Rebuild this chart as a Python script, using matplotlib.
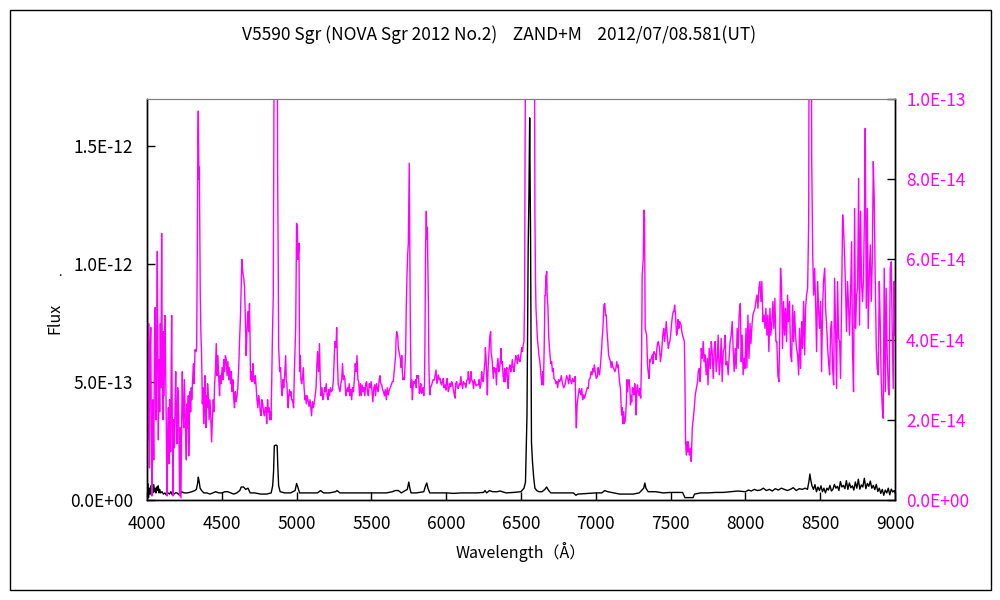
import matplotlib
matplotlib.use("Agg")
import matplotlib.pyplot as plt
from matplotlib.patches import Rectangle

plt.rcParams['font.family'] = ['Noto Sans CJK JP', 'DejaVu Sans']

# ---------- magenta spectrum (right axis, units of 1E-14) ----------
mag_wl = [
    4000, 4003, 4007, 4011, 4016, 4020, 4025, 4030, 4034, 4040, 4045, 4050, 4055, 4060, 4065, 4069,
    4073, 4076, 4080, 4085, 4089, 4093, 4098, 4102, 4106, 4109, 4114, 4120, 4125, 4130, 4134, 4138,
    4143, 4147, 4151, 4154, 4158, 4162, 4165, 4169, 4174, 4178, 4183, 4188, 4192, 4196, 4201, 4205,
    4209, 4214, 4218, 4222, 4227, 4232, 4236, 4240, 4245, 4250, 4254, 4258, 4263, 4268, 4272, 4276,
    4279, 4283, 4287, 4292, 4296, 4299, 4304, 4310, 4315, 4321, 4327, 4332, 4336, 4340, 4343, 4347,
    4350, 4353, 4356, 4360, 4365, 4370, 4374, 4379, 4383, 4388, 4391, 4394, 4398, 4401, 4405, 4410,
    4415, 4421, 4426, 4432, 4437, 4443, 4447, 4452, 4457, 4463, 4468, 4474, 4480, 4485, 4490, 4496,
    4502, 4508, 4513, 4519, 4524, 4530, 4535, 4541, 4547, 4552, 4558, 4563, 4569, 4574, 4580, 4585,
    4590, 4596, 4602, 4607, 4613, 4619, 4625, 4630, 4634, 4638, 4643, 4648, 4652, 4657, 4663, 4668,
    4674, 4680, 4685, 4689, 4692, 4697, 4701, 4705, 4708, 4713, 4719, 4724, 4730, 4735, 4741, 4746,
    4752, 4757, 4763, 4768, 4774, 4779, 4785, 4790, 4796, 4800, 4806, 4811, 4815, 4820, 4825, 4829,
    4834, 4838, 4844, 4848, 4851, 4856, 4862, 4868, 4873, 4877, 4880, 4884, 4887, 4893, 4897, 4900,
    4904, 4909, 4914, 4920, 4927, 4931, 4935, 4940, 4944, 4948, 4953, 4958, 4962, 4967, 4971, 4976,
    4980, 4985, 4989, 4994, 4998, 5000, 5005, 5009, 5016, 5020, 5025, 5029, 5034, 5038, 5045, 5050,
    5056, 5060, 5065, 5070, 5076, 5083, 5090, 5095, 5100, 5106, 5112, 5117, 5124, 5130, 5135, 5140,
    5147, 5153, 5158, 5164, 5170, 5175, 5181, 5187, 5192, 5198, 5204, 5210, 5215, 5221, 5226, 5234,
    5240, 5246, 5252, 5257, 5263, 5268, 5273, 5278, 5283, 5290, 5296, 5301, 5307, 5313, 5318, 5323,
    5329, 5334, 5340, 5346, 5352, 5357, 5363, 5368, 5374, 5380, 5386, 5392, 5398, 5404, 5410, 5415,
    5421, 5427, 5432, 5438, 5444, 5450, 5456, 5462, 5468, 5474, 5480, 5486, 5492, 5498, 5504, 5510,
    5516, 5522, 5528, 5534, 5540, 5546, 5552, 5557, 5563, 5569, 5575, 5581, 5587, 5593, 5600, 5606,
    5613, 5620, 5626, 5633, 5640, 5646, 5652, 5657, 5662, 5665, 5669, 5673, 5676, 5680, 5685, 5690,
    5694, 5699, 5703, 5707, 5711, 5716, 5721, 5725, 5729, 5733, 5738, 5742, 5747, 5751, 5753, 5757,
    5760, 5765, 5769, 5774, 5778, 5782, 5786, 5791, 5796, 5800, 5803, 5808, 5812, 5815, 5820, 5825,
    5830, 5835, 5840, 5845, 5850, 5855, 5858, 5862, 5867, 5870, 5874, 5879, 5881, 5884, 5887, 5891,
    5895, 5903, 5912, 5920, 5925, 5932, 5938, 5947, 5955, 5958, 5965, 5970, 5977, 5981, 5985, 5992,
    5998, 6003, 6007, 6014, 6019, 6025, 6030, 6036, 6041, 6048, 6055, 6059, 6063, 6070, 6075, 6081,
    6088, 6092, 6098, 6103, 6110, 6115, 6120, 6126, 6132, 6138, 6144, 6148, 6155, 6160, 6166, 6170,
    6177, 6183, 6188, 6193, 6200, 6206, 6215, 6220, 6226, 6232, 6237, 6242, 6248, 6253, 6259, 6262,
    6266, 6270, 6275, 6280, 6285, 6290, 6293, 6297, 6300, 6308, 6315, 6320, 6326, 6330, 6336, 6340,
    6346, 6351, 6357, 6362, 6366, 6370, 6375, 6380, 6386, 6391, 6395, 6400, 6405, 6410, 6415, 6420,
    6426, 6432, 6437, 6442, 6448, 6453, 6460, 6465, 6471, 6476, 6482, 6487, 6493, 6500, 6505, 6510,
    6515, 6520, 6524, 6527, 6531, 6540, 6560, 6580, 6589, 6593, 6597, 6600, 6605, 6610, 6616, 6620,
    6625, 6630, 6636, 6641, 6645, 6650, 6655, 6660, 6663, 6666, 6669, 6672, 6675, 6680, 6685, 6690,
    6696, 6700, 6705, 6710, 6716, 6720, 6727, 6733, 6740, 6745, 6751, 6758, 6764, 6770, 6775, 6780,
    6786, 6794, 6800, 6805, 6812, 6818, 6825, 6830, 6838, 6845, 6852, 6858, 6862, 6865, 6867, 6870,
    6875, 6882, 6890, 6895, 6900, 6906, 6912, 6918, 6925, 6930, 6936, 6943, 6950, 6955, 6962, 6968,
    6975, 6980, 6985, 6990, 6996, 7003, 7010, 7016, 7020, 7025, 7032, 7039, 7044, 7048, 7054, 7060,
    7065, 7070, 7075, 7080, 7086, 7092, 7098, 7103, 7108, 7115, 7120, 7128, 7134, 7140, 7146, 7150,
    7158, 7165, 7170, 7173, 7177, 7180, 7186, 7190, 7195, 7200, 7205, 7208, 7212, 7217, 7222, 7228,
    7232, 7236, 7240, 7245, 7250, 7255, 7260, 7265, 7270, 7275, 7279, 7283, 7290, 7294, 7300, 7306,
    7310, 7317, 7322, 7326, 7330, 7340, 7346, 7350, 7356, 7362, 7364, 7370, 7378, 7382, 7385, 7390,
    7398, 7403, 7408, 7413, 7418, 7426, 7432, 7440, 7448, 7454, 7460, 7466, 7471, 7477, 7485, 7490,
    7495, 7500, 7508, 7513, 7518, 7522, 7527, 7533, 7540, 7545, 7550, 7555, 7560, 7565, 7570, 7575,
    7580, 7588, 7592, 7596, 7600, 7605, 7610, 7615, 7618, 7625, 7632, 7638, 7645, 7652, 7658, 7665,
    7672, 7680, 7685, 7692, 7698, 7705, 7712, 7718, 7725, 7730, 7738, 7745, 7750, 7758, 7765, 7772,
    7778, 7785, 7792, 7798, 7805, 7812, 7818, 7825, 7832, 7838, 7845, 7852, 7858, 7865, 7870, 7878,
    7885, 7892, 7898, 7905, 7912, 7918, 7925, 7932, 7938, 7945, 7952, 7958, 7966, 7972, 7978, 7985,
    7992, 7997, 8004, 8010, 8017, 8024, 8031, 8037, 8044, 8050, 8057, 8064, 8070, 8077, 8084, 8090,
    8097, 8104, 8110, 8117, 8124, 8131, 8137, 8144, 8150, 8157, 8164, 8170, 8177, 8184, 8190, 8197,
    8204, 8210, 8217, 8224, 8230, 8235, 8242, 8248, 8255, 8262, 8268, 8275, 8282, 8288, 8295, 8302,
    8309, 8316, 8322, 8329, 8335, 8342, 8349, 8356, 8362, 8369, 8376, 8382, 8389, 8396, 8402, 8409,
    8416, 8423, 8426, 8432, 8440, 8443, 8450, 8456, 8463, 8470, 8476, 8483, 8490, 8496, 8503, 8509,
    8516, 8522, 8530, 8536, 8543, 8550, 8556, 8563, 8570, 8576, 8583, 8590, 8596, 8603, 8610, 8616,
    8623, 8630, 8636, 8643, 8650, 8656, 8663, 8670, 8676, 8683, 8690, 8696, 8703, 8710, 8716, 8723,
    8730, 8736, 8743, 8750, 8757, 8763, 8770, 8776, 8783, 8790, 8797, 8801, 8808, 8815, 8821, 8828,
    8835, 8841, 8848, 8855, 8861, 8868, 8875, 8881, 8888, 8895, 8901, 8908, 8915, 8921, 8928, 8935,
    8941, 8948, 8955, 8961, 8968, 8975, 8981, 8988, 8994, 9000,
]
mag_flux = [
    2.0, 5.5, 1.5, 4.4, 0.8, 3.5, 4.3, 1.2, 0.1, 2.5, 1.0, 3.8, 4.8, 2.0, 4.0, 6.2,
    3.0, 1.5, 3.5, 2.2, 4.4, 2.8, 6.65, 3.5, 2.0, 4.2, 2.6, 4.6, 3.2, 1.5, 0.1, 1.5,
    2.3, 0.9, 2.5, 2.0, 1.2, 3.5, 4.6, 2.0, 0.1, 2.0, 1.3, 2.5, 3.2, 2.0, 1.4, 2.8,
    2.6, 1.5, 0.1, 1.8, 0.05, 2.0, 3.2, 2.2, 1.8, 3.0, 2.3, 1.6, 1.0, 2.4, 1.8, 2.6,
    1.1, 2.0, 2.7, 2.2, 2.8, 2.5, 2.9, 3.4, 2.9, 3.75, 3.7, 3.8, 6.1, 9.0, 9.7, 8.0,
    8.3, 6.5, 5.1, 4.2, 3.6, 2.4, 2.8, 1.9, 2.6, 3.1, 2.2, 1.8, 2.6, 2.3, 2.9, 2.6,
    2.0, 2.5, 2.1, 1.45, 2.0, 2.5, 2.2, 2.9, 3.2, 3.9, 3.1, 3.6, 3.0, 2.6, 3.1, 2.9,
    3.3, 3.0, 3.5, 3.2, 3.6, 3.5, 3.1, 3.45, 3.0, 3.3, 2.9, 3.2, 2.7, 3.0, 2.5, 2.3,
    2.7, 2.45, 2.6, 2.8, 3.3, 4.0, 4.6, 5.4, 6.0, 5.8, 5.6, 5.5, 5.3, 4.6, 3.6, 4.2,
    4.7, 4.2, 4.9, 4.0, 3.0, 3.2, 2.95, 3.1, 3.4, 3.0, 2.9, 3.1, 2.8, 2.5, 2.3, 2.6,
    2.45, 2.2, 2.1, 2.5, 2.4, 2.2, 2.1, 2.3, 2.3, 1.9, 2.5, 2.2, 2.3, 2.0, 2.2, 2.0,
    3.0, 4.0, 5.1, 9.0, 14, 20, 25, 18, 8.3, 6.0, 3.8, 3.5, 3.2, 3.3, 2.9, 2.7,
    2.6, 3.0, 2.8, 3.1, 3.6, 3.0, 2.9, 2.5, 2.3, 2.6, 2.75, 2.6, 2.7, 2.5, 2.5, 2.4,
    2.3, 3.2, 3.7, 4.3, 6.2, 6.9, 6.8, 6.0, 6.4, 3.2, 3.6, 3.0, 2.9, 3.0, 3.3, 2.8,
    2.5, 2.6, 2.4, 2.6, 2.5, 2.33, 2.5, 2.3, 2.1, 2.45, 2.3, 2.4, 2.6, 2.8, 3.3, 3.7,
    3.2, 3.9, 3.0, 2.6, 2.8, 2.5, 2.6, 2.8, 2.7, 2.9, 2.6, 2.5, 2.75, 2.6, 2.8, 2.7,
    2.75, 3.0, 3.6, 3.95, 3.8, 4.3, 3.45, 2.9, 2.8, 2.7, 2.9, 3.0, 3.4, 3.0, 3.1, 3.0,
    2.6, 2.7, 2.8, 2.7, 2.9, 2.6, 2.75, 2.5, 2.8, 2.7, 3.0, 3.4, 3.2, 3.6, 3.0, 2.95,
    2.6, 2.9, 2.6, 2.87, 2.7, 2.8, 2.6, 2.9, 2.95, 2.7, 2.6, 2.9, 2.8, 2.95, 2.7, 2.45,
    2.8, 2.87, 2.6, 2.9, 2.78, 2.7, 3.0, 3.1, 2.9, 2.87, 2.75, 2.7, 2.6, 2.75, 2.5, 2.8,
    2.62, 2.75, 2.8, 2.87, 2.95, 2.95, 3.2, 3.4, 3.6, 4.0, 4.2, 4.1, 4.1, 3.8, 3.7, 3.6,
    3.5, 3.3, 3.6, 3.2, 3.0, 3.05, 3.0, 3.4, 3.7, 4.8, 5.6, 6.1, 6.4, 7.6, 8.4, 6.35,
    4.5, 2.8, 3.0, 2.5, 2.8, 2.95, 2.9, 2.95, 3.0, 2.8, 3.1, 3.05, 3.1, 3.1, 2.66, 2.7,
    2.9, 2.66, 2.7, 2.8, 2.6, 2.9, 3.95, 6.2, 7.2, 6.5, 6.8, 5.5, 4.9, 3.5, 2.9, 2.62,
    2.8, 2.87, 3.0, 2.99, 3.1, 3.24, 2.9, 3.12, 3.0, 3.03, 2.9, 2.87, 3.0, 3.03, 2.8, 2.87,
    2.74, 3.0, 3.03, 2.7, 2.78, 2.9, 2.83, 2.95, 2.91, 2.75, 2.6, 2.54, 2.9, 2.95, 2.8, 2.78,
    2.9, 2.87, 3.08, 2.9, 2.78, 2.95, 2.9, 2.91, 2.8, 2.99, 3.0, 3.2, 2.9, 2.95, 3.2, 3.0,
    2.95, 2.78, 3.0, 2.95, 2.85, 2.87, 2.87, 3.0, 2.78, 2.9, 3.2, 3.0, 2.95, 3.2, 3.45, 3.8,
    3.57, 3.2, 2.62, 3.3, 3.6, 4.0, 4.11, 4.2, 3.7, 3.45, 3.03, 3.3, 3.2, 3.28, 2.87, 3.3,
    3.53, 3.2, 3.28, 3.5, 3.78, 3.4, 3.45, 3.12, 2.95, 3.28, 2.95, 3.2, 3.3, 3.0, 2.78, 3.28,
    3.37, 3.2, 3.3, 3.5, 3.3, 3.2, 3.45, 3.6, 3.53, 3.4, 3.62, 3.5, 3.45, 3.66, 3.8, 3.7,
    3.87, 3.95, 5.0, 8.4, 12, 20, 35, 22, 13, 7.1, 5.5, 4.8, 4.4, 4.0, 3.78, 3.6,
    3.5, 3.28, 3.0, 2.87, 3.2, 2.87, 3.8, 5.1, 5.1, 5.6, 5.6, 5.7, 5.1, 4.8, 4.1, 3.8,
    3.53, 3.4, 3.45, 3.2, 3.28, 3.03, 3.0, 2.9, 2.95, 2.8, 3.0, 2.95, 3.0, 3.1, 2.95, 2.87,
    2.8, 2.87, 3.0, 3.1, 3.03, 2.9, 3.12, 3.0, 2.9, 3.03, 2.95, 3.0, 3.08, 2.5, 2.12, 1.8,
    2.37, 2.6, 2.78, 2.7, 2.62, 2.78, 2.5, 2.62, 2.54, 2.62, 2.7, 2.8, 2.78, 3.0, 3.03, 3.2,
    3.12, 3.28, 3.2, 3.37, 3.2, 3.03, 3.08, 3.3, 3.2, 3.12, 3.4, 3.78, 4.1, 4.3, 4.86, 4.9,
    4.6, 4.61, 4.2, 3.95, 3.6, 3.53, 3.45, 3.3, 3.45, 3.3, 3.28, 3.2, 3.28, 3.45, 3.3, 3.37,
    2.95, 2.78, 2.3, 2.12, 2.3, 1.9, 2.2, 1.91, 1.95, 2.12, 2.5, 3.0, 2.7, 2.95, 3.0, 2.78,
    2.37, 2.6, 2.45, 2.8, 2.78, 2.62, 2.9, 2.7, 2.12, 2.8, 2.87, 2.7, 2.6, 2.78, 2.54, 3.53,
    5.6, 6.0, 7.23, 7.0, 4.28, 4.1, 3.37, 3.2, 3.03, 3.5, 3.45, 3.53, 3.62, 3.4, 3.66, 3.7,
    3.62, 3.5, 3.78, 3.9, 3.95, 3.78, 3.45, 3.7, 4.11, 4.28, 3.95, 4.2, 4.45, 4.11, 3.78, 3.9,
    3.95, 4.11, 4.45, 4.61, 4.7, 4.7, 4.86, 4.61, 4.11, 4.2, 4.5, 4.28, 4.45, 4.4, 4.36, 4.2,
    4.11, 4.0, 3.95, 2.95, 1.45, 1.12, 1.45, 1.2, 1.45, 1.12, 1.29, 0.96, 1.79, 2.04, 2.29, 2.62,
    2.78, 2.95, 3.2, 3.28, 2.95, 3.78, 3.53, 3.95, 3.45, 3.62, 3.12, 3.53, 2.87, 3.78, 3.28, 3.95,
    3.7, 3.03, 3.78, 3.95, 3.2, 3.53, 4.11, 3.12, 3.45, 4.03, 2.95, 3.7, 3.78, 4.11, 3.37, 3.45,
    3.12, 3.62, 3.95, 4.11, 4.45, 3.78, 3.2, 3.78, 3.28, 4.28, 3.78, 4.61, 4.9, 3.45, 4.11, 3.12,
    3.53, 3.28, 4.28, 3.3, 4.61, 3.53, 4.4, 3.9, 4.36, 4.61, 4.7, 4.78, 4.95, 5.11, 4.78, 5.28,
    5.45, 4.95, 5.45, 4.45, 4.61, 4.28, 4.78, 4.11, 4.61, 3.7, 4.78, 4.11, 4.45, 4.95, 4.28, 5.03,
    3.95, 3.95, 3.12, 2.95, 4.28, 5.78, 5.28, 3.78, 4.95, 4.11, 4.78, 3.95, 5.11, 4.45, 4.95, 3.62,
    3.45, 4.86, 3.95, 4.7, 4.11, 3.78, 3.62, 3.12, 4.28, 3.28, 4.45, 3.78, 4.95, 3.62, 4.78, 5.11,
    5.28, 6.94, 12, 20, 14, 8.6, 6.11, 5.11, 5.78, 4.78, 3.7, 5.45, 4.7, 4.28, 4.95, 3.2,
    4.78, 5.45, 5.78, 4.78, 4.36, 3.78, 3.45, 3.12, 4.28, 4.45, 3.28, 2.87, 5.53, 4.28, 2.78, 5.45,
    4.03, 3.95, 3.03, 4.95, 7.11, 6.77, 6.11, 5.2, 4.2, 5.45, 4.78, 4.11, 5.11, 6.44, 3.7, 2.7,
    7.27, 4.28, 5.11, 5.28, 8.02, 4.36, 7.2, 5.45, 4.95, 5.61, 7.52, 9.27, 4.78, 7.27, 4.28, 5.61,
    6.36, 4.95, 5.94, 8.44, 7.52, 5.45, 3.78, 3.28, 3.12, 5.45, 4.45, 2.95, 2.29, 2.04, 5.78, 2.7,
    5.28, 3.62, 2.78, 2.62, 5.78, 5.94, 4.28, 2.78, 5.45, 4.11,
]

# ---------- black spectrum (left axis, units of 1E-13) ----------
blk_wl = [
    4000, 4005, 4010, 4015, 4020, 4025, 4030, 4035, 4040, 4045, 4050, 4055, 4060, 4065, 4070, 4075,
    4080, 4085, 4090, 4100, 4110, 4120, 4130, 4140, 4150, 4160, 4170, 4180, 4190, 4200, 4220, 4230,
    4250, 4270, 4300, 4320, 4330, 4338, 4343, 4348, 4355, 4365, 4380, 4400, 4420, 4440, 4460, 4480,
    4500, 4520, 4540, 4560, 4580, 4600, 4620, 4630, 4645, 4660, 4675, 4690, 4720, 4760, 4800, 4830,
    4840, 4846, 4851, 4862, 4870, 4874, 4880, 4890, 4920, 4960, 4990, 5000, 5008, 5020, 5060, 5100,
    5140, 5160, 5180, 5220, 5260, 5270, 5290, 5340, 5400, 5450, 5500, 5550, 5600, 5640, 5660, 5680,
    5700, 5740, 5750, 5757, 5765, 5800, 5850, 5862, 5870, 5878, 5890, 5950, 6000, 6050, 6100, 6150,
    6200, 6250, 6260, 6270, 6290, 6310, 6340, 6360, 6400, 6450, 6500, 6520, 6530, 6540, 6548, 6553,
    6558, 6564, 6570, 6577, 6585, 6593, 6605, 6620, 6640, 6660, 6671, 6685, 6700, 6750, 6800, 6850,
    6867, 6880, 6950, 7000, 7040, 7060, 7080, 7120, 7160, 7200, 7250, 7290, 7320, 7328, 7335, 7350,
    7400, 7450, 7500, 7550, 7580, 7596, 7650, 7660, 7700, 7750, 7800, 7850, 7900, 7950, 8000, 8020,
    8040, 8060, 8080, 8100, 8120, 8140, 8160, 8180, 8200, 8220, 8240, 8260, 8280, 8300, 8320, 8340,
    8360, 8380, 8400, 8415, 8425, 8431, 8437, 8445, 8455, 8465, 8475, 8485, 8495, 8505, 8515, 8525,
    8535, 8545, 8555, 8565, 8575, 8585, 8595, 8605, 8615, 8625, 8635, 8645, 8655, 8665, 8675, 8685,
    8695, 8705, 8715, 8725, 8735, 8745, 8755, 8765, 8775, 8785, 8795, 8805, 8815, 8825, 8835, 8845,
    8855, 8865, 8875, 8885, 8895, 8905, 8915, 8925, 8935, 8945, 8955, 8965, 8975, 8985, 8995, 9000,
]
blk_flux = [
    0.3, 0.7, 0.1, 0.5, 0.25, 0.6, 0.2, 0.55, 0.3, 0.65, 0.35, 0.5, 0.3, 0.55, 0.4, 0.6,
    0.3, 0.45, 0.3, 0.35, 0.25, 0.3, 0.2, 0.3, 0.25, 0.35, 0.2, 0.25, 0.3, 0.3, 0.2, 0.35,
    0.3, 0.3, 0.35, 0.4, 0.45, 0.7, 0.97, 0.8, 0.5, 0.4, 0.3, 0.3, 0.25, 0.3, 0.35, 0.3,
    0.3, 0.35, 0.35, 0.3, 0.25, 0.3, 0.4, 0.55, 0.55, 0.45, 0.5, 0.3, 0.3, 0.25, 0.25, 0.3,
    0.6, 1.2, 2.3, 2.33, 2.3, 1.5, 0.6, 0.35, 0.3, 0.3, 0.4, 0.7, 0.55, 0.3, 0.3, 0.3,
    0.3, 0.4, 0.3, 0.3, 0.35, 0.4, 0.3, 0.3, 0.3, 0.3, 0.3, 0.3, 0.3, 0.35, 0.4, 0.4,
    0.3, 0.45, 0.76, 0.5, 0.3, 0.3, 0.35, 0.6, 0.72, 0.5, 0.3, 0.3, 0.3, 0.28, 0.3, 0.3,
    0.3, 0.32, 0.4, 0.3, 0.4, 0.35, 0.35, 0.38, 0.3, 0.32, 0.35, 0.5, 0.76, 3.6, 10.7, 12.9,
    16.2, 11.1, 2.45, 1.6, 0.94, 0.5, 0.4, 0.35, 0.35, 0.45, 0.55, 0.4, 0.3, 0.3, 0.3, 0.3,
    0.2, 0.25, 0.28, 0.3, 0.3, 0.4, 0.35, 0.3, 0.25, 0.25, 0.25, 0.3, 0.5, 0.72, 0.5, 0.35,
    0.35, 0.3, 0.32, 0.32, 0.32, 0.1, 0.1, 0.25, 0.3, 0.3, 0.32, 0.32, 0.35, 0.38, 0.35, 0.42,
    0.38, 0.45, 0.4, 0.42, 0.5, 0.4, 0.45, 0.38, 0.48, 0.42, 0.5, 0.45, 0.4, 0.45, 0.52, 0.4,
    0.48, 0.45, 0.5, 0.45, 0.8, 1.1, 0.85, 0.6, 0.45, 0.65, 0.35, 0.55, 0.4, 0.6, 0.35, 0.5,
    0.3, 0.5, 0.42, 0.62, 0.38, 0.45, 0.66, 0.5, 0.58, 0.4, 0.78, 0.55, 0.62, 0.48, 0.82, 0.45,
    0.72, 0.52, 0.6, 0.42, 0.76, 0.5, 0.88, 0.46, 0.64, 0.55, 0.92, 0.48, 0.7, 0.58, 0.8, 0.5,
    0.62, 0.44, 0.66, 0.36, 0.5, 0.28, 0.45, 0.2, 0.42, 0.3, 0.5, 0.22, 0.46, 0.34, 0.4, 0.3,
]

left_ticks = [0.0, 5.0e-13, 1.0e-12, 1.5e-12]
right_ticks = [0.0, 2.0e-14, 4.0e-14, 6.0e-14, 8.0e-14, 1.0e-13]
x_ticks = [4000, 4500, 5000, 5500, 6000, 6500, 7000, 7500, 8000, 8500, 9000]

title = "V5590 Sgr (NOVA Sgr 2012 No.2)    ZAND+M    2012/07/08.581(UT)"
MAGENTA = '#ff00ff'

fig = plt.figure(figsize=(10, 6), dpi=100)
fig.patches.append(Rectangle((0.010, 0.0167), 0.981, 0.9667, transform=fig.transFigure,
                             fill=False, edgecolor='black', linewidth=1.0))

ax = fig.add_axes([0.147, 0.1667, 0.748, 0.6683])
ax2 = ax.twinx()

ax.plot(blk_wl, [v * 1e-13 for v in blk_flux], color='black', lw=1.0)
ax2.plot(mag_wl, [v * 1e-14 for v in mag_flux], color=MAGENTA, lw=1.0)

ax.set_xlim(4000, 9000)
ax.set_ylim(0, 1.7e-12)
ax2.set_ylim(0, 1.0e-13)

ax.set_xticks(x_ticks)
ax.set_xticklabels([str(t) for t in x_ticks])
ax.set_yticks(left_ticks)
ax.set_yticklabels(["%.1E" % t for t in left_ticks])
ax2.set_yticks(right_ticks)
ax2.set_yticklabels(["%.1E" % t for t in right_ticks])

ax.tick_params(axis='both', direction='in', length=6, width=1, labelsize=12.5, colors='black')
ax.tick_params(axis='y', pad=10)
ax.tick_params(axis='x', pad=11)
ax2.tick_params(axis='y', direction='in', length=6, width=1, labelsize=12.5,
                colors='black', labelcolor=MAGENTA, pad=8)

for a in (ax, ax2):
    a.spines['top'].set_color('#808080')
    for s in ('left', 'right', 'bottom'):
        a.spines[s].set_color('black')
        a.spines[s].set_linewidth(1.0)

fig.text(0.499, 1 - 35 / 600, title, ha='center', va='center', fontsize=12.5)
fig.text(0.521, 1 - 552 / 600, "Wavelength（Å）", ha='center', va='center', fontsize=11.5)
fig.text(0.055, 1 - 318 / 600, "Flux", ha='center', va='center', rotation=90, fontsize=11.5)
fig.text(0.060, 1 - 272 / 600, ".", ha='center', va='center', fontsize=9)

plt.savefig("out.png", dpi=100)
